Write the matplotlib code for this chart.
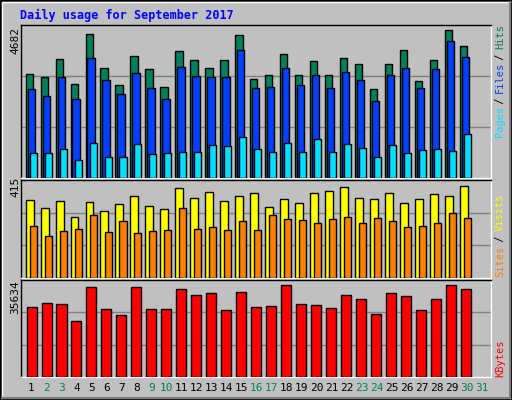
import matplotlib
matplotlib.use("Agg")
import matplotlib.pyplot as plt
from matplotlib.patches import Rectangle
from matplotlib.lines import Line2D

days = list(range(1, 31))
hits = [3286,3191,3763,2968,4526,3477,2936,3858,3445,2873,4017,3731,3477,3731,4494,3127,3254,3922,3254,3699,3254,3795,3604,2809,3604,4049,3063,3731,4682,4176]
files = [2809,2586,3191,2491,3795,3095,2650,3318,2841,2491,3509,3222,3191,3191,4049,2841,2873,3477,2936,3254,2841,3350,3095,2427,3254,3477,2841,3445,4335,3827]
pages = [774,774,901,583,1092,678,678,1060,742,774,806,806,1028,996,1283,901,806,1092,806,1219,806,1060,933,678,1028,774,869,901,837,1378]
visits = [352,316,347,275,343,302,334,370,325,311,406,361,388,347,370,384,320,356,338,384,393,411,361,356,384,338,356,379,370,415]
sites = [235,190,212,221,284,208,257,203,212,217,316,221,230,217,257,217,284,266,262,248,266,275,248,271,257,230,235,248,293,271]
kbytes = [27020,28590,28195,21540,34850,26240,23890,34850,26240,26240,34070,31720,32500,25850,32900,27020,27410,35634,28195,27800,26630,31720,30150,24280,32500,31330,25850,30150,35634,34070]
weekend = {2,3,9,10,16,17,23,24,30,31}

BG = "#C0C0C0"
W, H = 512, 400
fig = plt.figure(figsize=(5.12, 4.0), dpi=100, facecolor=BG)
MONO = "DejaVu Sans Mono"

def ax_at(x0, y0, x1, y1):
    ax = fig.add_axes([x0/W, 1-y1/H, (x1-x0)/W, (y1-y0)/H])
    ax.set_facecolor(BG)
    ax.set_xlim(0, 31.4)
    ax.set_xticks([]); ax.set_yticks([])
    for s in ("left", "top"):
        ax.spines[s].set_color("black")
    for s in ("right", "bottom"):
        ax.spines[s].set_color("white")
    for s in ax.spines.values():
        s.set_linewidth(1)
    return ax

def bars(ax, vals, off, w, color):
    x = [d - 1 + off for d in days]
    ax.bar(x, vals, width=w, align="edge", color=color, edgecolor="black", linewidth=1, zorder=3)

ax1 = ax_at(21, 25, 491, 178)
ymax1 = 4682 * 152 / 147.5
ax1.set_ylim(0, ymax1)
for g in (ymax1/3, 2*ymax1/3):
    ax1.axhline(g, color="#808080", lw=1, zorder=1)
bars(ax1, hits, 0.31, 0.49, "#00805C")
bars(ax1, files, 0.44, 0.49, "#0040FF")
bars(ax1, pages, 0.58, 0.47, "#00E0FF")

ax2 = ax_at(21, 180, 491, 278)
ymax2 = 415 * 98 / 92
ax2.set_ylim(0, ymax2)
for g in (ymax2/3, 2*ymax2/3):
    ax2.axhline(g, color="#808080", lw=1, zorder=1)
bars(ax2, visits, 0.31, 0.53, "#FFFF00")
bars(ax2, sites, 0.58, 0.47, "#FF8000")

ax3 = ax_at(21, 280, 491, 377)
ymax3 = 35634 * 97 / 92
ax3.set_ylim(0, ymax3)
for g in (ymax3/3, 2*ymax3/3):
    ax3.axhline(g, color="#808080", lw=1, zorder=1)
bars(ax3, kbytes, 0.37, 0.67, "#FF0000")

fig.text(20/W, 1-15/H, "Daily usage for September 2017", color="#0000FF",
         fontsize=8.5, fontweight="bold", family=MONO, va="center", ha="left")

fig.text(15/W, 1-40/H, "4682", rotation=90, fontsize=8, family=MONO, ha="center", va="center")
fig.text(15/W, 1-187/H, "415", rotation=90, fontsize=8, family=MONO, ha="center", va="center")
fig.text(15/W, 1-297/H, "35634", rotation=90, fontsize=8, family=MONO, ha="center", va="center")

def vstack(x, ybottom, parts, step=5.5):
    y = ybottom
    for txt, col in parts:
        fig.text(x/W, 1-y/H, txt, rotation=90, fontsize=7.5, family=MONO, color=col,
                 ha="center", va="bottom")
        y -= len(txt) * step
vstack(500, 137, [("Pages", "#00E0FF"), (" / ", "#000000"), ("Files", "#0040FF"), (" / ", "#000000"), ("Hits", "#00805C")])
vstack(500, 277, [("Sites", "#FF8000"), (" / ", "#000000"), ("Visits", "#FFFF00")], step=5.8)
vstack(500, 377, [("KBytes", "#FF0000")])

for d in range(1, 32):
    xpx = 21 + (d - 1 + 0.7) * 15
    fig.text(xpx/W, 1-388/H, str(d), fontsize=8, family=MONO, ha="center", va="center",
             color="#00805C" if d in weekend else "black")

fig.add_artist(Rectangle((0, 0), 1, 1, transform=fig.transFigure, fill=False, ec="black", lw=2))
fig.add_artist(Line2D([2/W, 2/W, 1-2/W], [2/H, 1-2/H, 1-2/H], transform=fig.transFigure, color="white", lw=1))
fig.add_artist(Line2D([2/W, 1-2/W, 1-2/W], [2/H, 2/H, 1-2/H], transform=fig.transFigure, color="#808080", lw=1.5))

fig.savefig("out.png", dpi=100, facecolor=BG)
